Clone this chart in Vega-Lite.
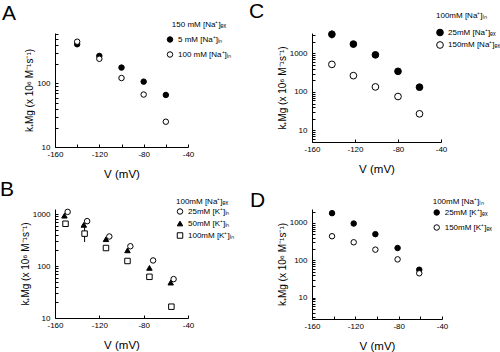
{
  "$schema": "https://vega.github.io/schema/vega-lite/v6.json",
  "autosize": {"type": "none"},
  "padding": {"left": 55, "top": 33, "right": 445, "bottom": 319},
  "background": "white",
  "config": {
    "view": {"stroke": null},
    "font": "Liberation Sans",
    "axis": {"labelFont": "Liberation Sans", "titleFont": "Liberation Sans", "labelFontSize": 8, "titleFontSize": 10, "titleFontWeight": "normal", "labelColor": "black", "titleColor": "black", "domainColor": "black", "tickColor": "black", "grid": false, "tickSize": -3, "labelFlush": false, "labelOverlap": false},
    "axisX": {"labelPadding": 6, "titleFontSize": 11.5, "titlePadding": 10},
    "axisY": {"labelPadding": 8, "titlePadding": 2},
    "legend": {"orient": "none", "padding": 0, "titleFont": "Liberation Sans", "labelFont": "Liberation Sans", "titleFontSize": 8, "labelFontSize": 8, "titleFontWeight": "normal", "titleColor": "black", "labelColor": "black", "symbolStrokeWidth": 1, "labelOffset": 4},
    "title": {"anchor": "start", "frame": "group", "font": "Liberation Sans", "fontSize": 21, "fontWeight": "normal", "offset": 0, "baseline": "alphabetic", "color": "black"}
  },
  "resolve": {"scale": {"shape": "independent", "fill": "independent", "stroke": "independent"}, "legend": {"shape": "independent", "fill": "independent", "stroke": "independent"}},
  "columns": 2,
  "bounds": "flush",
  "spacing": {"row": 62, "column": 124},
  "concat": [
    {
      "width": 133, "height": 114,
      "title": {"text": "A", "dx": -53, "dy": 7},
      "data": {"values": [
        {"v": -140, "k": 415, "s": "5 mM [Na⁺]ᵢₙ"},
        {"v": -120, "k": 272, "s": "5 mM [Na⁺]ᵢₙ"},
        {"v": -100, "k": 178, "s": "5 mM [Na⁺]ᵢₙ"},
        {"v": -80, "k": 107, "s": "5 mM [Na⁺]ᵢₙ"},
        {"v": -60, "k": 66, "s": "5 mM [Na⁺]ᵢₙ"},
        {"v": -140, "k": 455, "s": "100 mM [Na⁺]ᵢₙ"},
        {"v": -120, "k": 245, "s": "100 mM [Na⁺]ᵢₙ"},
        {"v": -100, "k": 122, "s": "100 mM [Na⁺]ᵢₙ"},
        {"v": -80, "k": 67, "s": "100 mM [Na⁺]ᵢₙ"},
        {"v": -60, "k": 25, "s": "100 mM [Na⁺]ᵢₙ"}
      ]},
      "mark": {"type": "point", "filled": true, "strokeWidth": 1, "size": 30, "opacity": 1},
      "encoding": {
        "x": {"field": "v", "type": "quantitative", "scale": {"domain": [-160, -40], "nice": false, "zero": false}, "axis": {"values": [-160, -140, -120, -100, -80, -60, -40], "labelExpr": "datum.value % 40 == 0 ? '-' + (-datum.value) : ''", "title": "V (mV)"}},
        "y": {"field": "k", "type": "quantitative", "scale": {"type": "log", "domain": [10, 624], "nice": false}, "axis": {"values": [10, 20, 30, 40, 50, 60, 70, 80, 90, 100, 200, 300, 400, 500, 600], "labelExpr": "datum.value == 10 || datum.value == 100 || datum.value == 1000 ? '' + datum.value : ''", "title": "k₊Mg (x 10⁶ M⁻¹s⁻¹)"}},
        "shape": {"field": "s", "type": "nominal", "scale": {"domain": ["5 mM [Na⁺]ᵢₙ", "100 mM [Na⁺]ᵢₙ"], "range": ["circle", "circle"]}, "legend": {"title": "150 mM [Na⁺]ₑₓ", "legendX": 111, "legendY": -12.5, "titleAnchor": "middle", "titlePadding": 7, "rowPadding": 5, "symbolSize": 30}},
        "fill": {"field": "s", "type": "nominal", "scale": {"domain": ["5 mM [Na⁺]ᵢₙ", "100 mM [Na⁺]ᵢₙ"], "range": ["black", "white"]}, "legend": {"title": "150 mM [Na⁺]ₑₓ", "legendX": 111, "legendY": -12.5, "titleAnchor": "middle", "titlePadding": 7, "rowPadding": 5, "symbolSize": 30}},
        "stroke": {"field": "s", "type": "nominal", "scale": {"domain": ["5 mM [Na⁺]ᵢₙ", "100 mM [Na⁺]ᵢₙ"], "range": ["black", "black"]}, "legend": {"title": "150 mM [Na⁺]ₑₓ", "legendX": 111, "legendY": -12.5, "titleAnchor": "middle", "titlePadding": 7, "rowPadding": 5, "symbolSize": 30}}
      }
    },
    {
      "width": 129, "height": 109,
      "title": {"text": "C", "dx": -63, "dy": 14},
      "data": {"values": [
        {"v": -141.5, "k": 3150, "s": "25mM [Na⁺]ₑₓ", "lo": 2450, "hi": 4000},
        {"v": -121.5, "k": 1750, "s": "25mM [Na⁺]ₑₓ"},
        {"v": -101, "k": 920, "s": "25mM [Na⁺]ₑₓ"},
        {"v": -80, "k": 343, "s": "25mM [Na⁺]ₑₓ"},
        {"v": -60, "k": 133, "s": "25mM [Na⁺]ₑₓ"},
        {"v": -141.5, "k": 520, "s": "150mM [Na⁺]ₑₓ"},
        {"v": -121.5, "k": 265, "s": "150mM [Na⁺]ₑₓ"},
        {"v": -101, "k": 135, "s": "150mM [Na⁺]ₑₓ"},
        {"v": -80, "k": 76, "s": "150mM [Na⁺]ₑₓ"},
        {"v": -60, "k": 27, "s": "150mM [Na⁺]ₑₓ"}
      ]},
      "layer": [
        {
          "transform": [{"filter": "isValid(datum.lo)"}],
          "mark": {"type": "rule", "color": "black", "strokeWidth": 1},
          "encoding": {
            "x": {"field": "v", "type": "quantitative"},
            "y": {"field": "lo", "type": "quantitative"},
            "y2": {"field": "hi"}
          }
        },
        {
          "mark": {"type": "point", "filled": true, "strokeWidth": 1, "size": 45, "opacity": 1},
          "encoding": {
            "x": {"field": "v", "type": "quantitative", "scale": {"domain": [-160, -40], "nice": false, "zero": false}, "axis": {"values": [-160, -140, -120, -100, -80, -60, -40], "labelExpr": "datum.value % 40 == 0 ? '-' + (-datum.value) : ''", "title": "V (mV)"}},
            "y": {"field": "k", "type": "quantitative", "scale": {"type": "log", "domain": [5, 3400], "nice": false}, "axis": {"values": [5, 6, 7, 8, 9, 10, 20, 30, 40, 50, 60, 70, 80, 90, 100, 200, 300, 400, 500, 600, 700, 800, 900, 1000, 2000, 3000], "labelExpr": "datum.value == 10 || datum.value == 100 || datum.value == 1000 ? '' + datum.value : ''", "title": "k₊Mg (x 10⁶ M⁻¹s⁻¹)"}},
            "shape": {"field": "s", "type": "nominal", "scale": {"domain": ["25mM [Na⁺]ₑₓ", "150mM [Na⁺]ₑₓ"], "range": ["circle", "circle"]}, "legend": {"title": "100mM [Na⁺]ᵢₙ", "legendX": 124, "legendY": -21.5, "titlePadding": 9, "rowPadding": 0.5, "symbolSize": 45}},
            "fill": {"field": "s", "type": "nominal", "scale": {"domain": ["25mM [Na⁺]ₑₓ", "150mM [Na⁺]ₑₓ"], "range": ["black", "white"]}, "legend": {"title": "100mM [Na⁺]ᵢₙ", "legendX": 124, "legendY": -21.5, "titlePadding": 9, "rowPadding": 0.5, "symbolSize": 45}},
            "stroke": {"field": "s", "type": "nominal", "scale": {"domain": ["25mM [Na⁺]ₑₓ", "150mM [Na⁺]ₑₓ"], "range": ["black", "black"]}, "legend": {"title": "100mM [Na⁺]ᵢₙ", "legendX": 124, "legendY": -21.5, "titlePadding": 9, "rowPadding": 0.5, "symbolSize": 45}}
          }
        }
      ]
    },
    {
      "width": 133, "height": 109,
      "title": {"text": "B", "dx": -55, "dy": 6.5},
      "data": {"values": [
        {"v": -150.5, "k": 650, "s": "100mM [K⁺]ᵢₙ"},
        {"v": -133.3, "k": 420, "s": "100mM [K⁺]ᵢₙ", "lo": 290, "hi": 560},
        {"v": -114, "k": 222, "s": "100mM [K⁺]ᵢₙ"},
        {"v": -94.6, "k": 125, "s": "100mM [K⁺]ᵢₙ"},
        {"v": -74.8, "k": 62, "s": "100mM [K⁺]ᵢₙ"},
        {"v": -55, "k": 16.5, "s": "100mM [K⁺]ᵢₙ"},
        {"v": -151.5, "k": 930, "s": "50mM [K⁺]ᵢₙ"},
        {"v": -134, "k": 620, "s": "50mM [K⁺]ᵢₙ"},
        {"v": -114, "k": 328, "s": "50mM [K⁺]ᵢₙ"},
        {"v": -94.6, "k": 200, "s": "50mM [K⁺]ᵢₙ"},
        {"v": -74.8, "k": 92, "s": "50mM [K⁺]ᵢₙ"},
        {"v": -55.6, "k": 48, "s": "50mM [K⁺]ᵢₙ"},
        {"v": -148.6, "k": 1100, "s": "25mM [K⁺]ᵢₙ"},
        {"v": -131, "k": 730, "s": "25mM [K⁺]ᵢₙ"},
        {"v": -111, "k": 370, "s": "25mM [K⁺]ᵢₙ"},
        {"v": -92, "k": 240, "s": "25mM [K⁺]ᵢₙ"},
        {"v": -71.5, "k": 128, "s": "25mM [K⁺]ᵢₙ"},
        {"v": -53, "k": 56, "s": "25mM [K⁺]ᵢₙ"}
      ]},
      "layer": [
        {
          "transform": [{"filter": "isValid(datum.lo)"}],
          "mark": {"type": "rule", "color": "black", "strokeWidth": 1},
          "encoding": {
            "x": {"field": "v", "type": "quantitative"},
            "y": {"field": "lo", "type": "quantitative"},
            "y2": {"field": "hi"}
          }
        },
        {
          "mark": {"type": "point", "filled": true, "strokeWidth": 1, "size": 30, "opacity": 1},
          "encoding": {
            "x": {"field": "v", "type": "quantitative", "scale": {"domain": [-160, -40], "nice": false, "zero": false}, "axis": {"values": [-160, -140, -120, -100, -80, -60, -40], "labelExpr": "datum.value % 40 == 0 ? '-' + (-datum.value) : ''", "title": "V (mV)"}},
            "y": {"field": "k", "type": "quantitative", "scale": {"type": "log", "domain": [10, 1250], "nice": false}, "axis": {"values": [10, 20, 30, 40, 50, 60, 70, 80, 90, 100, 200, 300, 400, 500, 600, 700, 800, 900, 1000], "labelExpr": "datum.value == 10 || datum.value == 100 || datum.value == 1000 ? '' + datum.value : ''", "title": "k₊Mg (x 10⁶ M⁻¹s⁻¹)"}},
            "shape": {"field": "s", "type": "nominal", "scale": {"domain": ["25mM [K⁺]ᵢₙ", "50mM [K⁺]ᵢₙ", "100mM [K⁺]ᵢₙ"], "range": ["circle", "triangle-up", "square"]}, "legend": {"title": "100mM [Na⁺]ₑₓ", "legendX": 121, "legendY": -11.5, "titlePadding": 2, "rowPadding": 2, "symbolSize": 30}},
            "fill": {"field": "s", "type": "nominal", "scale": {"domain": ["25mM [K⁺]ᵢₙ", "50mM [K⁺]ᵢₙ", "100mM [K⁺]ᵢₙ"], "range": ["white", "black", "white"]}, "legend": {"title": "100mM [Na⁺]ₑₓ", "legendX": 121, "legendY": -11.5, "titlePadding": 2, "rowPadding": 2, "symbolSize": 30}},
            "stroke": {"field": "s", "type": "nominal", "scale": {"domain": ["25mM [K⁺]ᵢₙ", "50mM [K⁺]ᵢₙ", "100mM [K⁺]ᵢₙ"], "range": ["black", "black", "black"]}, "legend": {"title": "100mM [Na⁺]ₑₓ", "legendX": 121, "legendY": -11.5, "titlePadding": 2, "rowPadding": 2, "symbolSize": 30}}
          }
        }
      ]
    },
    {
      "width": 130, "height": 110,
      "title": {"text": "D", "dx": -62, "dy": 17.5},
      "data": {"values": [
        {"v": -141.5, "k": 1820, "s": "25mM [K⁺]ₑₓ"},
        {"v": -121.5, "k": 960, "s": "25mM [K⁺]ₑₓ"},
        {"v": -101.5, "k": 500, "s": "25mM [K⁺]ₑₓ"},
        {"v": -81, "k": 213, "s": "25mM [K⁺]ₑₓ"},
        {"v": -61, "k": 56, "s": "25mM [K⁺]ₑₓ"},
        {"v": -141.5, "k": 440, "s": "150mM [K⁺]ₑₓ"},
        {"v": -121.5, "k": 303, "s": "150mM [K⁺]ₑₓ"},
        {"v": -101.5, "k": 193, "s": "150mM [K⁺]ₑₓ"},
        {"v": -81, "k": 106, "s": "150mM [K⁺]ₑₓ"},
        {"v": -61, "k": 45, "s": "150mM [K⁺]ₑₓ"}
      ]},
      "mark": {"type": "point", "filled": true, "strokeWidth": 1, "size": 30, "opacity": 1},
      "encoding": {
        "x": {"field": "v", "type": "quantitative", "scale": {"domain": [-160, -40], "nice": false, "zero": false}, "axis": {"values": [-160, -140, -120, -100, -80, -60, -40], "labelExpr": "datum.value % 40 == 0 ? '-' + (-datum.value) : ''", "title": "V (mV)"}},
        "y": {"field": "k", "type": "quantitative", "scale": {"type": "log", "domain": [2.7, 2350], "nice": false}, "axis": {"values": [3, 4, 5, 6, 7, 8, 9, 10, 20, 30, 40, 50, 60, 70, 80, 90, 100, 200, 300, 400, 500, 600, 700, 800, 900, 1000, 2000], "labelExpr": "datum.value == 10 || datum.value == 100 || datum.value == 1000 ? '' + datum.value : ''", "title": "k₊Mg (x 10⁶ M⁻¹s⁻¹)"}},
        "shape": {"field": "s", "type": "nominal", "scale": {"domain": ["25mM [K⁺]ₑₓ", "150mM [K⁺]ₑₓ"], "range": ["circle", "circle"]}, "legend": {"title": "100mM [Na⁺]ᵢₙ", "legendX": 120.7, "legendY": -11.5, "titlePadding": 3, "rowPadding": 5, "symbolSize": 30}},
        "fill": {"field": "s", "type": "nominal", "scale": {"domain": ["25mM [K⁺]ₑₓ", "150mM [K⁺]ₑₓ"], "range": ["black", "white"]}, "legend": {"title": "100mM [Na⁺]ᵢₙ", "legendX": 120.7, "legendY": -11.5, "titlePadding": 3, "rowPadding": 5, "symbolSize": 30}},
        "stroke": {"field": "s", "type": "nominal", "scale": {"domain": ["25mM [K⁺]ₑₓ", "150mM [K⁺]ₑₓ"], "range": ["black", "black"]}, "legend": {"title": "100mM [Na⁺]ᵢₙ", "legendX": 120.7, "legendY": -11.5, "titlePadding": 3, "rowPadding": 5, "symbolSize": 30}}
      }
    }
  ]
}
